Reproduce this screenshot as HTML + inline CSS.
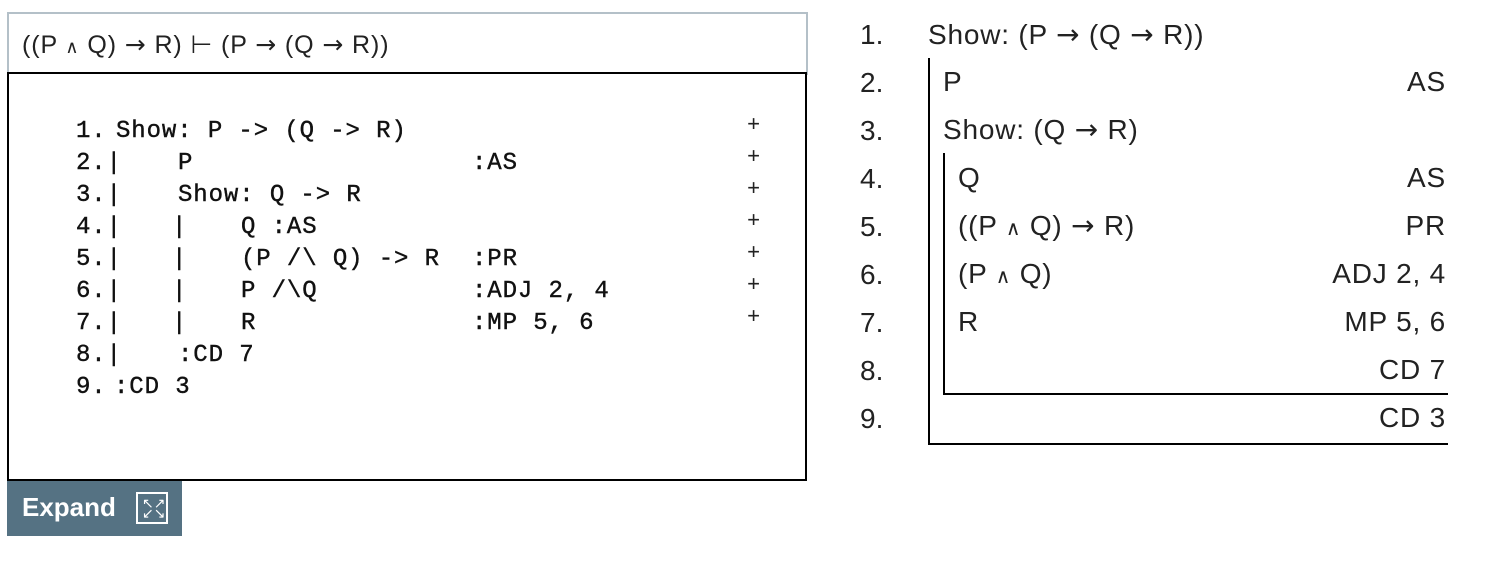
<!DOCTYPE html>
<html><head><meta charset="utf-8"><style>
body{margin:0;width:1490px;height:566px;background:#fff;position:relative;overflow:hidden;font-family:"Liberation Sans",sans-serif;}
.a{position:absolute;white-space:pre;}
.m{font-family:"Liberation Mono",monospace;font-size:24px;letter-spacing:0.9px;color:#111;line-height:32px;-webkit-text-stroke:0.4px #111;}
.s{font-size:28px;color:#222;line-height:48px;letter-spacing:0.8px;}
.r{text-align:right;}
.ar{font-family:"DejaVu Sans",sans-serif;}
.pl{font-family:"Liberation Mono",monospace;font-size:22px;color:#222;}
</style></head><body>
<div class="a" style="left:7px;top:12px;width:797px;height:61px;border:2px solid #b4c0c8;border-bottom:none;"></div>
<div class="a" style="left:22px;top:30px;font-size:25px;color:#222;letter-spacing:0.9px;">((P <span style="font-size:18px">∧</span> Q) <span class="ar">→</span> R) ⊢ (P <span class="ar">→</span> (Q <span class="ar">→</span> R))</div>
<div class="a" style="left:7px;top:72px;width:796px;height:405px;border:2px solid #000;"></div>

<div class="a m" style="left:76px;top:116px;">1.</div><div class="a m" style="left:116px;top:116px;">Show: P -&gt; (Q -&gt; R)</div>
<div class="a m" style="left:76px;top:148px;">2.|</div><div class="a m" style="left:178px;top:148px;">P</div><div class="a m" style="left:472px;top:148px;">:AS</div>
<div class="a m" style="left:76px;top:180px;">3.|</div><div class="a m" style="left:178px;top:180px;">Show: Q -&gt; R</div>
<div class="a m" style="left:76px;top:212px;">4.|</div><div class="a m" style="left:172px;top:212px;">|</div><div class="a m" style="left:241px;top:212px;">Q :AS</div>
<div class="a m" style="left:76px;top:244px;">5.|</div><div class="a m" style="left:172px;top:244px;">|</div><div class="a m" style="left:241px;top:244px;">(P /\ Q) -&gt; R</div><div class="a m" style="left:472px;top:244px;">:PR</div>
<div class="a m" style="left:76px;top:276px;">6.|</div><div class="a m" style="left:172px;top:276px;">|</div><div class="a m" style="left:241px;top:276px;">P /\Q</div><div class="a m" style="left:472px;top:276px;">:ADJ 2, 4</div>
<div class="a m" style="left:76px;top:308px;">7.|</div><div class="a m" style="left:172px;top:308px;">|</div><div class="a m" style="left:241px;top:308px;">R</div><div class="a m" style="left:472px;top:308px;">:MP 5, 6</div>
<div class="a m" style="left:76px;top:340px;">8.|</div><div class="a m" style="left:178px;top:340px;">:CD 7</div>
<div class="a m" style="left:76px;top:372px;">9.</div><div class="a m" style="left:114px;top:372px;">:CD 3</div>

<div class="a pl" style="left:747px;top:110px;line-height:32px;">+<br>+<br>+<br>+<br>+<br>+<br>+</div>

<div class="a" style="left:7px;top:481px;width:175px;height:55px;background:#557283;"></div>
<div class="a" style="left:22px;top:492px;font-size:26px;font-weight:bold;color:#fff;">Expand</div>
<div class="a" style="left:136px;top:492px;width:28px;height:28px;border:2px solid #fff;"></div>
<div class="a" style="left:142px;top:498px;font-size:14px;color:#fff;line-height:10px;">↖↗<br>↙↘</div>

<div class="a s" style="left:860px;top:11px;line-height:48px;letter-spacing:0;">1.<br>2.<br>3.<br>4.<br>5.<br>6.<br>7.<br>8.<br>9.</div>
<div class="a s" style="left:928px;top:11px;">Show: (P <span class="ar">→</span> (Q <span class="ar">→</span> R))</div>
<div class="a s" style="left:943px;top:58px;">P</div>
<div class="a s" style="left:943px;top:106px;">Show: (Q <span class="ar">→</span> R)</div>
<div class="a s" style="left:958px;top:154px;">Q</div>
<div class="a s" style="left:958px;top:202px;">((P <span style="font-size:20px">∧</span> Q) <span class="ar">→</span> R)</div>
<div class="a s" style="left:958px;top:250px;">(P <span style="font-size:20px">∧</span> Q)</div>
<div class="a s" style="left:958px;top:298px;">R</div>
<div class="a s r" style="left:1100px;width:346px;top:58px;">AS</div>
<div class="a s r" style="left:1100px;width:346px;top:154px;">AS</div>
<div class="a s r" style="left:1100px;width:346px;top:202px;">PR</div>
<div class="a s r" style="left:1100px;width:346px;top:250px;">ADJ 2, 4</div>
<div class="a s r" style="left:1100px;width:346px;top:298px;">MP 5, 6</div>
<div class="a s r" style="left:1100px;width:346px;top:346px;">CD 7</div>
<div class="a s r" style="left:1100px;width:346px;top:394px;">CD 3</div>
<div class="a" style="left:928px;top:58px;width:518px;height:385px;border-left:2px solid #000;border-bottom:2px solid #000;"></div>
<div class="a" style="left:943px;top:153px;width:503px;height:240px;border-left:2px solid #000;border-bottom:2px solid #000;"></div>
</body></html>
